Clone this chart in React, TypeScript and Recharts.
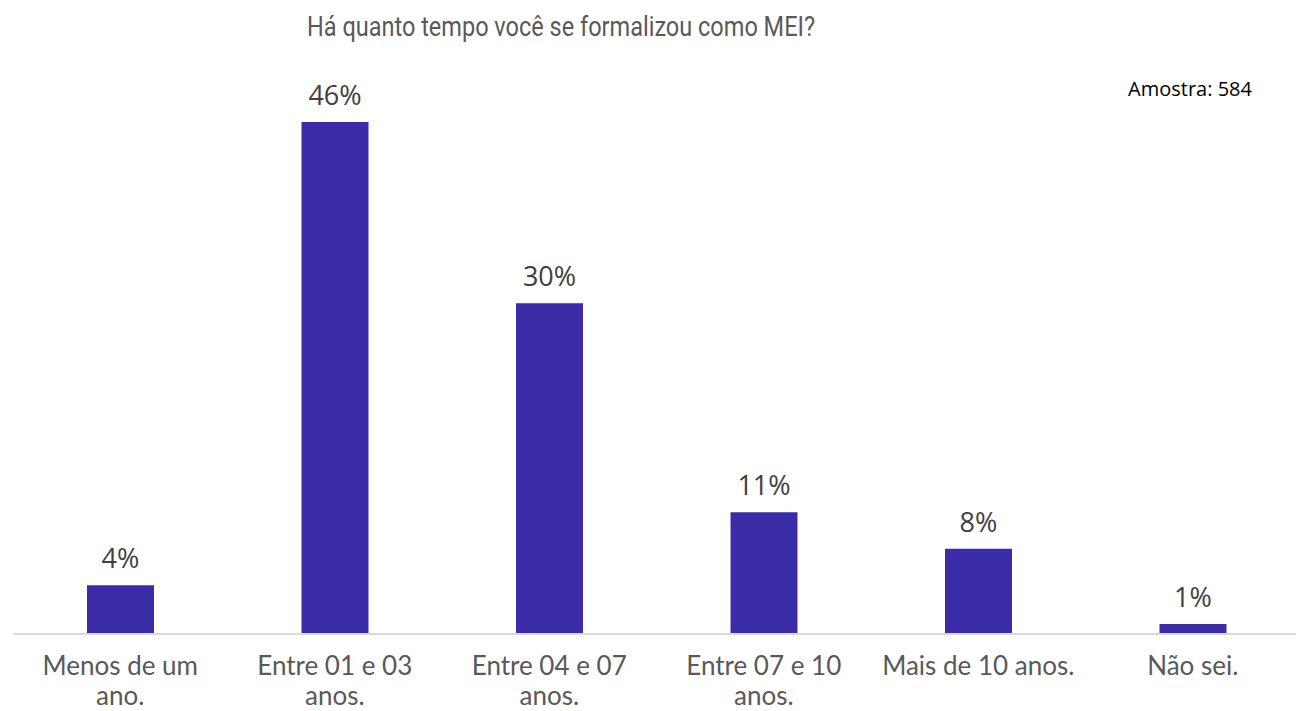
import React from "react";
import { BarChart, Bar, XAxis, YAxis, LabelList } from "recharts";

const categories = [
  "Menos de um\nano.",
  "Entre 01 e 03\nanos.",
  "Entre 04 e 07\nanos.",
  "Entre 07 e 10\nanos.",
  "Mais de 10 anos.",
  "Não sei.",
];
const shares = [4.4, 46.3, 29.9, 11.0, 7.7, 0.9];
const title = "Há quanto tempo você se formalizou como MEI?";
const sampleNote = "Amostra: 584";

const data = categories.map((c, i) => ({ cat: c, value: shares[i] }));

const AXIS_FONT = "'Open Sans', 'Noto Sans', sans-serif";
const TICK_FONT = "Lato, 'Open Sans', sans-serif";

const CategoryTick = (props: any) => {
  const { x, y, payload } = props;
  const lines = String(payload.value).split("\n");
  return (
    <text
      x={x}
      y={y}
      textAnchor="middle"
      fontFamily={TICK_FONT}
      fontSize={26}
      fill="#595959"
    >
      {lines.map((ln: string, i: number) => (
        <tspan key={i} x={x} dy={i === 0 ? 33 : 30}>
          {ln}
        </tspan>
      ))}
    </text>
  );
};

export default function App() {
  return (
    <div
      style={{
        position: "absolute",
        left: 0,
        top: 0,
        width: 1296,
        height: 711,
        overflow: "hidden",
        background: "#ffffff",
      }}
    >
      <svg
        width={1296}
        height={60}
        style={{ position: "absolute", left: 0, top: 0 }}
      >
        <text
          x={561}
          y={36}
          textAnchor="middle"
          textLength={508}
          lengthAdjust="spacingAndGlyphs"
          fontFamily="Roboto, 'Liberation Sans', sans-serif"
          fontSize={28.5}
          fill="#595959"
        >
          {title}
        </text>
      </svg>
      <div
        style={{
          position: "absolute",
          right: 44,
          top: 79,
          whiteSpace: "nowrap",
          fontFamily: AXIS_FONT,
          fontSize: 20,
          lineHeight: "20px",
          color: "#000000",
        }}
      >
        {sampleNote}
      </div>
      <div style={{ position: "absolute", left: 0, top: 0 }}>
        <BarChart
          width={1300}
          height={711}
          data={data}
          margin={{ top: 81, right: 0, left: 13, bottom: 0 }}
        >
          <XAxis
            dataKey="cat"
            height={77}
            interval={0}
            tickLine={false}
            axisLine={{ stroke: "#d9d9d9", strokeWidth: 2 }}
            tick={<CategoryTick />}
          />
          <YAxis hide domain={[0, 50]} />
          <Bar dataKey="value" fill="#3b2ca8" barSize={67} isAnimationActive={false}>
            <LabelList
              dataKey="value"
              position="top"
              offset={17}
              formatter={(v: any) => `${Math.round(Number(v))}%`}
              fill="#404040"
              fontSize={27}
              fontFamily={AXIS_FONT}
            />
          </Bar>
        </BarChart>
      </div>
    </div>
  );
}
